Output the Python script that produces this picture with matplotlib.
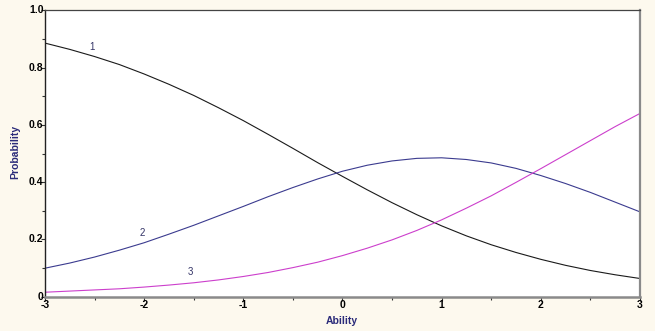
import matplotlib
matplotlib.use("Agg")
import matplotlib.pyplot as plt
from matplotlib.ticker import MultipleLocator

# ability grid and category response probabilities
ability = [-3.0, -2.75, -2.5, -2.25, -2.0, -1.75, -1.5, -1.25, -1.0, -0.75, -0.5, -0.25,
           0.0, 0.25, 0.5, 0.75, 1.0, 1.25, 1.5, 1.75, 2.0, 2.25, 2.5, 2.75, 3.0]
cat1 = [0.886, 0.864, 0.839, 0.811, 0.778, 0.742, 0.703, 0.660, 0.615, 0.567, 0.518, 0.468,
        0.420, 0.373, 0.328, 0.286, 0.247, 0.212, 0.181, 0.154, 0.130, 0.109, 0.091, 0.076, 0.063]
cat2 = [0.099, 0.117, 0.138, 0.162, 0.188, 0.218, 0.249, 0.282, 0.315, 0.349, 0.381, 0.411,
        0.438, 0.459, 0.474, 0.483, 0.485, 0.479, 0.467, 0.448, 0.423, 0.395, 0.364, 0.330, 0.296]
cat3 = [0.015, 0.019, 0.023, 0.027, 0.033, 0.040, 0.048, 0.058, 0.070, 0.084, 0.101, 0.120,
        0.143, 0.169, 0.198, 0.231, 0.268, 0.309, 0.352, 0.399, 0.447, 0.496, 0.545, 0.594, 0.640]

labels = ["1", "2", "3"]
label_pos = [(-2.53, 0.872), (-2.02, 0.222), (-1.53, 0.085)]
colors = ["#1a1a1a", "#3b3b8f", "#cc3fcc"]

bg = "#fdf9ee"
navy = "#2b2b7a"

fig = plt.figure(figsize=(6.55, 3.31), dpi=100, facecolor=bg)
ax = fig.add_axes([0.0687, 0.1042, 0.9083, 0.8641])
ax.set_facecolor("white")

for ys, c in zip([cat1, cat2, cat3], colors):
    ax.plot(ability, ys, color=c, lw=0.8)

for lab, (x, y) in zip(labels, label_pos):
    ax.text(x, y, lab, fontsize=7, color="#333366", ha="center", va="center",
            family="Liberation Sans")

ax.set_xlim(-3, 3)
ax.set_ylim(0, 1.0)
ax.xaxis.set_major_locator(MultipleLocator(1))
ax.xaxis.set_minor_locator(MultipleLocator(0.5))
ax.yaxis.set_major_locator(MultipleLocator(0.2))
ax.yaxis.set_minor_locator(MultipleLocator(0.1))
ax.set_xticklabels([])
ax.set_yticklabels([])

ax.tick_params(which="major", length=3, width=0.8, color="#333333", direction="out", pad=1)
ax.tick_params(which="minor", length=2, width=0.8, color="#333333", direction="out")

# tick labels placed by hand so they hug the axes like the original
for x in range(-3, 4):
    ax.text(x, -0.013, str(x), ha="center", va="top",
            fontsize=7.5, fontweight="bold", family="Liberation Sans")
for y, t in zip([0, 0.2, 0.4, 0.6, 0.8, 1.0], ["0", "0.2", "0.4", "0.6", "0.8", "1.0"]):
    ax.text(-3.015, y, t, ha="right", va="center", fontsize=7.5,
            fontweight="bold", family="Liberation Sans")

ax.spines["left"].set_color("#222222")
ax.spines["left"].set_linewidth(1.0)
ax.spines["bottom"].set_color("#8a8a8a")
ax.spines["bottom"].set_linewidth(1.8)
ax.spines["top"].set_color("#444444")
ax.spines["top"].set_linewidth(0.9)
ax.spines["right"].set_color("#8a8a8a")
ax.spines["right"].set_linewidth(1.6)

fig.text(0.522, 0.03, "Ability", ha="center", va="center", fontsize=7.5,
         fontweight="bold", color=navy, family="Liberation Sans")
fig.text(0.023, 0.54, "Probability", ha="center", va="center", rotation=90,
         fontsize=7.5, fontweight="bold", color=navy, family="Liberation Sans")

fig.savefig("out.png", dpi=100, facecolor=bg)
